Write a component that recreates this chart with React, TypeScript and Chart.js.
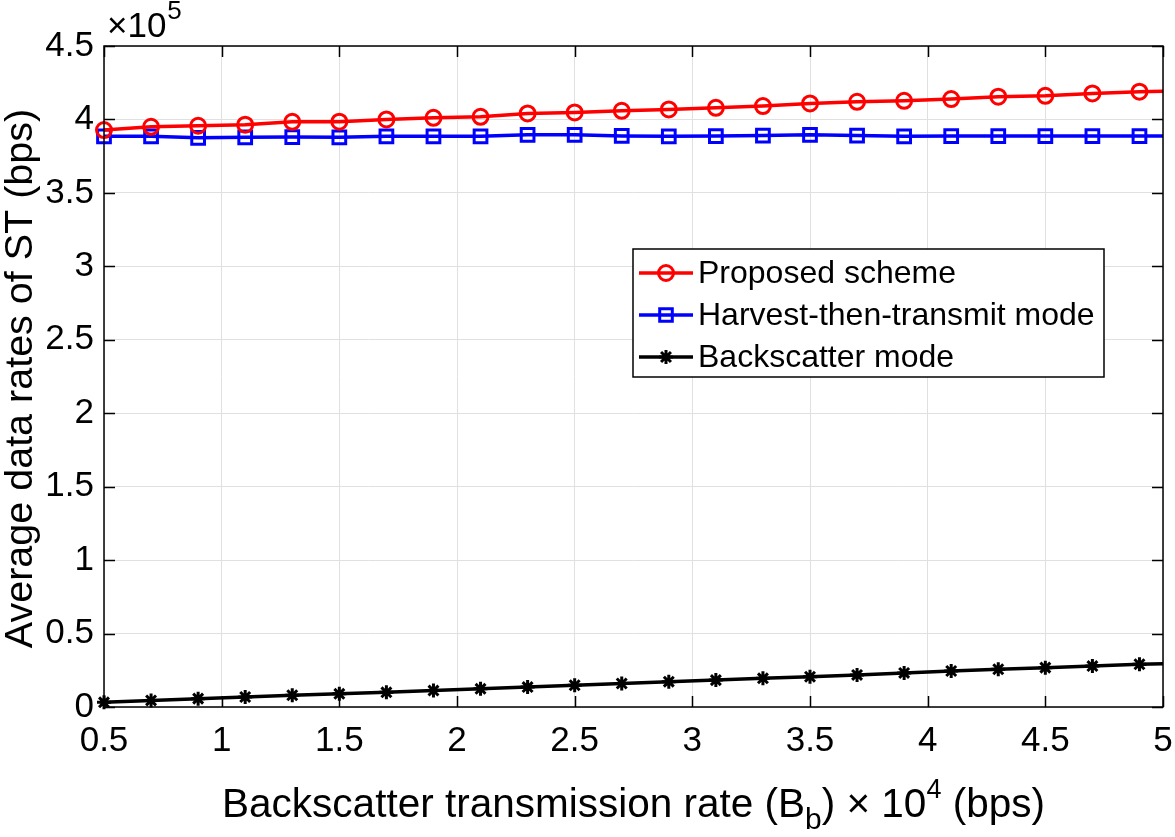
import React, { useEffect, useRef } from "react";
import { Chart, registerables } from "chart.js";

Chart.register(...registerables);

// ---------- data ----------
const xValues = [0.5, 0.7, 0.9, 1.1, 1.3, 1.5, 1.7, 1.9, 2.1, 2.3, 2.5, 2.7, 2.9, 3.1, 3.3, 3.5, 3.7, 3.9, 4.1, 4.3, 4.5, 4.7, 4.9, 5.0];
// average data rates in units of 1e5 bps
const proposedScheme = [3.928, 3.95, 3.957, 3.964, 3.984, 3.985, 4.0, 4.011, 4.018, 4.041, 4.048, 4.059, 4.068, 4.079, 4.091, 4.109, 4.12, 4.127, 4.139, 4.155, 4.161, 4.177, 4.189, 4.192];
const harvestThenTransmit = [3.885, 3.885, 3.875, 3.878, 3.88, 3.878, 3.885, 3.885, 3.885, 3.895, 3.895, 3.888, 3.885, 3.887, 3.89, 3.895, 3.89, 3.885, 3.887, 3.887, 3.887, 3.887, 3.887, 3.887];
const backscatterMode = [0.032, 0.045, 0.057, 0.068, 0.08, 0.09, 0.1, 0.112, 0.124, 0.136, 0.148, 0.16, 0.172, 0.183, 0.195, 0.206, 0.218, 0.232, 0.245, 0.257, 0.268, 0.279, 0.291, 0.294];
// markers only on the first 23 points (last point at x=5 has no marker)
const markerShown = [true, true, true, true, true, true, true, true, true, true, true, true, true, true, true, true, true, true, true, true, true, true, true, false];

const xTicks = [0.5, 1, 1.5, 2, 2.5, 3, 3.5, 4, 4.5, 5];
const yTicks = [0, 0.5, 1, 1.5, 2, 2.5, 3, 3.5, 4, 4.5];
const seriesLabels = ["Proposed scheme", "Harvest-then-transmit mode", "Backscatter mode"];
const seriesColors = ["#ff0000", "#0000ff", "#000000"];
const seriesMarkers = ["circle", "rect", "star"];
const yTitle = "Average data rates of ST (bps)";
const yExponentBase = "\u00d710";
const yExponent = "5";
// x title pieces: [text, kind] kind: n normal, sub subscript, sup superscript
const xTitleParts: [string, string][] = [
  ["Backscatter transmission rate (B", "n"],
  ["b", "sub"],
  [") \u00d7 10", "n"],
  ["4", "sup"],
  [" (bps)", "n"],
];

const FONT = "'Liberation Sans', Arial, Helvetica, sans-serif";
const AREA = { left: 104, right: 1167, top: 46, bottom: 707 };

function drawMarker(ctx: CanvasRenderingContext2D, style: string, x: number, y: number, color: string) {
  ctx.save();
  ctx.strokeStyle = color;
  ctx.lineWidth = 3;
  ctx.beginPath();
  if (style === "circle") {
    ctx.arc(x, y, 7.5, 0, Math.PI * 2);
  } else if (style === "rect") {
    const s = 6.3;
    ctx.rect(x - s, y - s, 2 * s, 2 * s);
  } else {
    const r = 7;
    const d = r * Math.SQRT1_2;
    ctx.moveTo(x - d, y - d); ctx.lineTo(x + d, y + d);
    ctx.moveTo(x - d, y + d); ctx.lineTo(x + d, y - d);
    ctx.moveTo(x, y - r); ctx.lineTo(x, y + r);
    ctx.moveTo(x - r, y); ctx.lineTo(x + r, y);
  }
  ctx.stroke();
  ctx.restore();
}

const decorPlugin = {
  id: "decor",
  afterDraw(chart: any) {
    const ctx: CanvasRenderingContext2D = chart.ctx;
    const { left, right, top, bottom } = chart.chartArea;
    const xs = chart.scales.x;
    const ys = chart.scales.y;
    ctx.save();
    // box
    ctx.strokeStyle = "#000";
    ctx.lineWidth = 1.5;
    ctx.strokeRect(left, top, right - left, bottom - top);
    // inward ticks
    const tl = 11;
    ctx.beginPath();
    for (const v of xTicks) {
      const px = Math.round(xs.getPixelForValue(v)) + 0.5;
      ctx.moveTo(px, bottom); ctx.lineTo(px, bottom - tl);
      ctx.moveTo(px, top); ctx.lineTo(px, top + tl);
    }
    for (const v of yTicks) {
      const py = Math.round(ys.getPixelForValue(v)) + 0.5;
      ctx.moveTo(left, py); ctx.lineTo(left + tl, py);
      ctx.moveTo(right, py); ctx.lineTo(right - tl, py);
    }
    ctx.stroke();

    // exponent label
    ctx.fillStyle = "#000";
    ctx.textAlign = "left";
    ctx.textBaseline = "alphabetic";
    ctx.font = `35px ${FONT}`;
    ctx.fillText(yExponentBase, left + 3, 37);
    const w0 = ctx.measureText(yExponentBase).width;
    ctx.font = `26px ${FONT}`;
    ctx.fillText(yExponent, left + 3 + w0 + 1, 19);

    // x title
    const sizes: Record<string, number> = { n: 40.5, sub: 30, sup: 27 };
    const offs: Record<string, number> = { n: 0, sub: 12, sup: -19 };
    let total = 0;
    for (const [t, k] of xTitleParts) {
      ctx.font = `${sizes[k]}px ${FONT}`;
      total += ctx.measureText(t).width;
    }
    let cx = (left + right) / 2 - total / 2;
    const base = 817;
    for (const [t, k] of xTitleParts) {
      ctx.font = `${sizes[k]}px ${FONT}`;
      ctx.fillText(t, cx, base + offs[k]);
      cx += ctx.measureText(t).width;
    }

    // y title
    ctx.save();
    ctx.translate(32, (top + bottom) / 2 + 2);
    ctx.rotate(-Math.PI / 2);
    ctx.textAlign = "center";
    ctx.font = `39.5px ${FONT}`;
    ctx.fillText(yTitle, 0, 0);
    ctx.restore();

    // legend
    const lx = 633, ly = 249, lw = 471, lh = 128;
    ctx.fillStyle = "#fff";
    ctx.fillRect(lx, ly, lw, lh);
    ctx.strokeStyle = "#000";
    ctx.lineWidth = 1.5;
    ctx.strokeRect(lx, ly, lw, lh);
    ctx.font = `32px ${FONT}`;
    ctx.textBaseline = "middle";
    ctx.textAlign = "left";
    chart.data.datasets.forEach((ds: any, i: number) => {
      const ry = ly + 24 + i * 42;
      ctx.strokeStyle = seriesColors[i];
      ctx.lineWidth = 3.5;
      ctx.beginPath();
      ctx.moveTo(lx + 6, ry);
      ctx.lineTo(lx + 60, ry);
      ctx.stroke();
      drawMarker(ctx, seriesMarkers[i], lx + 33, ry, seriesColors[i]);
      ctx.fillStyle = "#000";
      ctx.fillText(ds.label, lx + 65, ry + 1);
    });
    ctx.restore();
  },
};

export default function App() {
  const canvasRef = useRef<HTMLCanvasElement | null>(null);

  useEffect(() => {
    document.body.style.margin = "0";
    const canvas = canvasRef.current;
    if (!canvas) return;
    const seriesValues = [proposedScheme, harvestThenTransmit, backscatterMode];
    const padding = { left: 0, right: 8, top: 46, bottom: 0 };
    const options: any = {
      responsive: false,
      animation: false,
      devicePixelRatio: 1,
      layout: { padding },
      plugins: { legend: { display: false }, tooltip: { enabled: false } },
      scales: {
        x: {
          type: "linear",
          min: 0.5,
          max: 5,
          afterBuildTicks: (scale: any) => {
            scale.ticks = xTicks.map((v) => ({ value: v }));
          },
          afterFit: (scale: any) => {
            scale.height = 130;
            scale.paddingRight = 0;
            scale.paddingLeft = 0;
          },
          grid: { color: "#e0e0e0", lineWidth: 1, drawTicks: false },
          border: { display: false },
          ticks: {
            color: "#000",
            font: { family: FONT, size: 35 },
            padding: 13,
            maxRotation: 0,
            autoSkip: false,
            callback: (v: any) => String(v),
          },
        },
        y: {
          type: "linear",
          min: 0,
          max: 4.5,
          afterBuildTicks: (scale: any) => {
            scale.ticks = yTicks.map((v) => ({ value: v }));
          },
          afterFit: (scale: any) => {
            scale.width = 104;
            scale.paddingTop = 0;
            scale.paddingBottom = 0;
          },
          grid: { color: "#e0e0e0", lineWidth: 1, drawTicks: false },
          border: { display: false },
          ticks: {
            color: "#000",
            font: { family: FONT, size: 35 },
            padding: 10,
            autoSkip: false,
            callback: (v: any) => String(v),
          },
        },
      },
    };
    const chart = new Chart(canvas, {
      type: "line",
      data: {
        datasets: seriesValues.map((vals, i) => ({
          label: seriesLabels[i],
          data: xValues.map((x, j) => ({ x, y: vals[j] })),
          borderColor: seriesColors[i],
          backgroundColor: "rgba(0,0,0,0)",
          pointBackgroundColor: "rgba(0,0,0,0)",
          pointBorderColor: seriesColors[i],
          pointStyle: seriesMarkers[i] as any,
          pointRadius: markerShown.map((m) => (m ? (i === 0 ? 7.5 : i === 1 ? 9 : 7) : 0)),
          pointBorderWidth: 3,
          borderWidth: 3.5,
          tension: 0,
          fill: false,
          clip: false as any,
        })),
      },
      options,
      plugins: [decorPlugin],
    });
    // correct the plot area so it lands exactly where the reference has it
    for (let k = 0; k < 3; k++) {
      const ca = chart.chartArea;
      const dR = ca.right - AREA.right;
      const dL = ca.left - AREA.left;
      const dT = ca.top - AREA.top;
      const dB = ca.bottom - AREA.bottom;
      if (Math.abs(dR) < 0.5 && Math.abs(dL) < 0.5 && Math.abs(dT) < 0.5 && Math.abs(dB) < 0.5) break;
      padding.right += dR;
      padding.left -= dL;
      padding.top -= dT;
      padding.bottom += dB;
      chart.config.options.layout = { padding: { ...padding } } as any;
      chart.update();
    }
    return () => chart.destroy();
  }, []);

  return (
    <div style={{ width: 1175, height: 837, background: "#fff" }}>
      <canvas ref={canvasRef} width={1175} height={837} style={{ display: "block" }} />
    </div>
  );
}
